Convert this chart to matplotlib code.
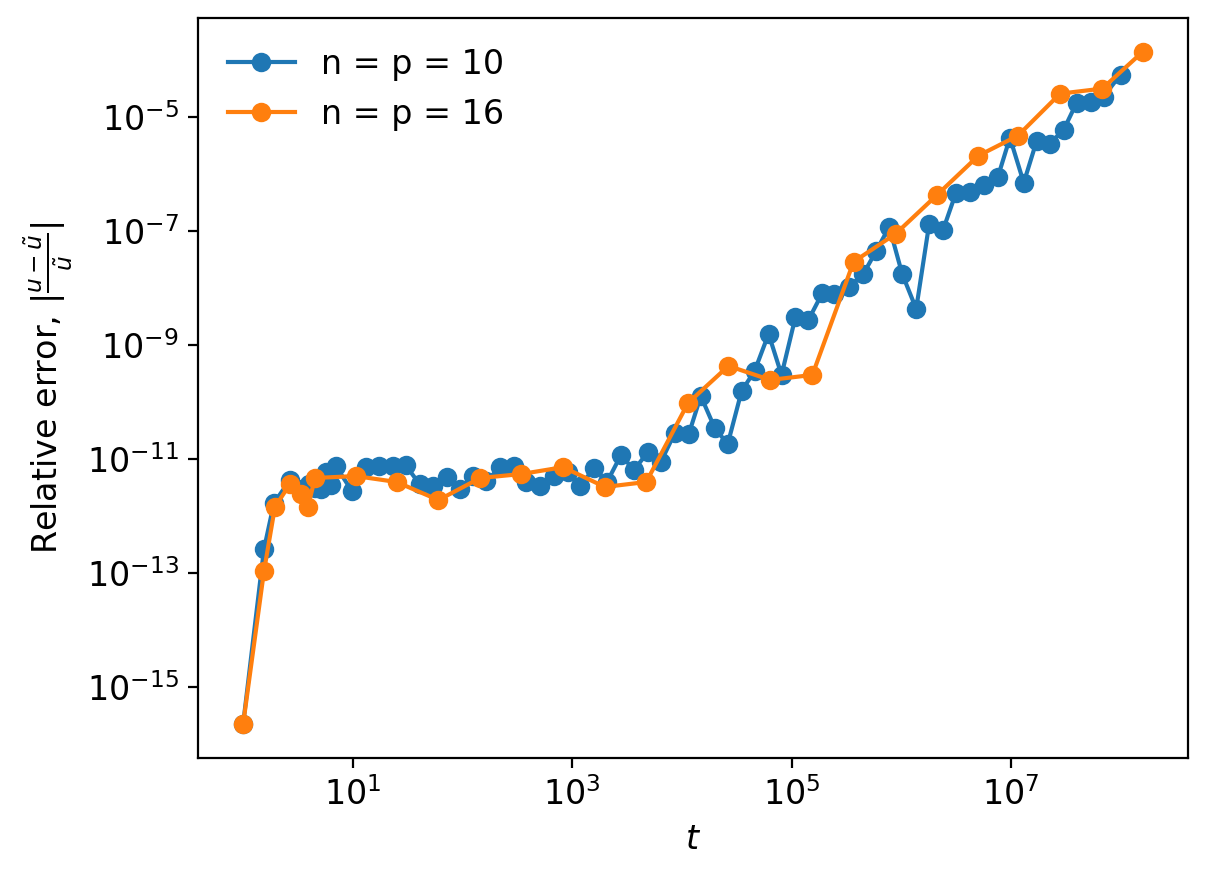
import matplotlib
matplotlib.use("Agg")
import matplotlib.pyplot as plt
from matplotlib.ticker import NullLocator
import numpy as np

plt.rcParams['font.size'] = 12

# n = p = 10
t_10 = [1, 1.55, 1.91, 2.67, 3.44, 3.98, 4.52, 5.12, 5.68, 6.31, 7.0,
        9.8, 13.1, 17.2, 23.1, 30.3, 40.6, 53.4, 71.6, 94, 126, 165, 221,
        297, 382, 512, 686, 920, 1183, 1585, 2080, 2790, 3660, 4910, 6440,
        8630, 11580, 14890, 19950, 26200, 35100, 46100, 61800, 81100,
        1.087e5, 1.428e5, 1.914e5, 2.46e5, 3.37e5, 4.52e5, 5.93e5, 7.78e5,
        1.02e6, 1.37e6, 1.80e6, 2.41e6, 3.16e6, 4.24e6, 5.69e6, 7.62e6,
        9.8e6, 1.31e7, 1.72e7, 2.26e7, 3.03e7, 3.98e7, 5.34e7, 7.0e7, 1.0e8]
err_10 = [2.24e-16, 2.63e-13, 1.69e-12, 4.27e-12, 2.96e-12, 3.6e-12,
          3.1e-12, 2.96e-12, 5.9e-12, 3.5e-12, 7.6e-12,
          2.75e-12, 7.2e-12, 7.6e-12, 7.6e-12, 7.85e-12, 3.63e-12, 3.36e-12,
          4.83e-12, 2.96e-12, 5.03e-12, 4.11e-12, 7.2e-12,
          7.6e-12, 3.96e-12, 3.36e-12, 5.03e-12, 5.9e-12, 3.36e-12, 6.95e-12,
          3.96e-12, 1.18e-11, 6.41e-12, 1.33e-11, 8.9e-12,
          2.86e-11, 2.75e-11, 1.27e-10, 3.5e-11, 1.83e-11, 1.56e-10, 3.5e-10,
          1.56e-9, 2.98e-10,
          3.1e-9, 2.75e-9, 8.17e-9, 7.85e-9, 1.04e-8, 1.76e-8, 4.46e-8,
          1.175e-7,
          1.76e-8, 4.28e-9, 1.33e-7, 1.04e-7, 4.65e-7, 4.83e-7, 6.41e-7,
          8.85e-7,
          4.28e-6, 6.95e-7, 3.79e-6, 3.36e-6, 5.91e-6, 1.76e-5, 1.83e-5,
          2.24e-5, 5.46e-5]

# n = p = 16
t_16 = [1, 1.55, 1.95, 2.67, 3.36, 3.9, 4.52, 10.6, 25.1, 60.4, 145, 344,
        826, 1990, 4740, 11400, 26600, 64000, 1.55e5, 3.68e5, 8.9e5, 2.13e6,
        5.06e6, 1.16e7, 2.81e7, 6.8e7, 1.6e8]
err_16 = [2.24e-16, 1.08e-13, 1.44e-12, 3.63e-12, 2.43e-12, 1.44e-12,
          4.65e-12, 5.03e-12, 3.96e-12, 1.91e-12, 4.65e-12, 5.46e-12,
          7.2e-12, 3.24e-12, 3.96e-12, 9.6e-11, 4.28e-10, 2.43e-10, 2.98e-10,
          2.86e-8, 8.85e-8, 4.28e-7, 2.07e-6, 4.65e-6, 2.53e-5, 3.1e-5,
          1.38e-4]

x_ticks = [1e1, 1e3, 1e5, 1e7]

fig = plt.figure(figsize=(6.04, 4.385), dpi=200)
ax = fig.add_axes([0.164, 0.1357, 0.8194, 0.8438])

ax.loglog(t_10, err_10, 'o-', label='n = p = 10')
ax.loglog(t_16, err_16, 'o-', label='n = p = 16')

ax.set_xticks(x_ticks)
ax.xaxis.set_minor_locator(NullLocator())
ax.yaxis.set_minor_locator(NullLocator())

ax.set_xlabel('$t$')
ax.set_ylabel(r'Relative error, $|\frac{u-\tilde{u}}{\tilde{u}}|$')
ax.legend(loc='upper left', frameon=False)

fig.savefig('out.png', dpi=200)
